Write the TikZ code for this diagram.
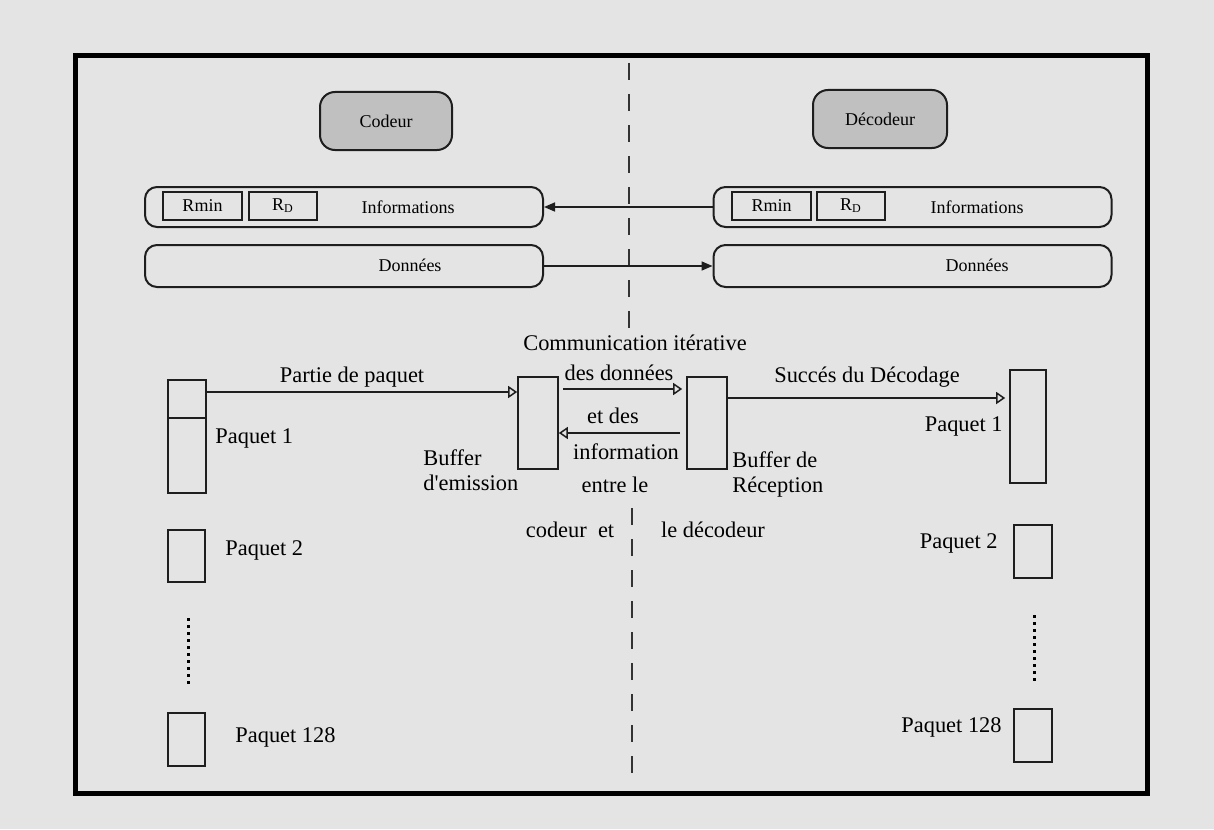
\documentclass[tikz,border=0pt]{standalone}
\usepackage{fontspec}
\setmainfont{Liberation Serif}
\newfontfamily\rawserif{Liberation Serif}[Ligatures=ResetAll]
\usetikzlibrary{arrows.meta}
\definecolor{bg}{RGB}{228,228,228}
\definecolor{ink}{RGB}{30,30,30}
\definecolor{unitfill}{RGB}{192,192,192}
\tikzset{
  unit/.style={draw=ink, line width=1pt, rounded corners=7.5pt, fill=unitfill,
    minimum width=66pt, minimum height=29pt, inner sep=0pt, font=\fontsize{9}{10}\selectfont},
  band/.style={draw=ink, line width=1pt, rounded corners=6pt,
    minimum width=199pt, minimum height=20pt, inner sep=0pt},
  field/.style={draw=ink, line width=0.9pt, minimum height=14pt, inner sep=0pt,
    font=\fontsize{9}{10}\selectfont},
  small/.style={font=\fontsize{9}{10}\selectfont, inner sep=0pt},
  lbl/.style={font=\fontsize{11.2}{12.5}\selectfont, inner sep=0pt},
  pk/.style={draw=ink, line width=0.8pt, inner sep=0pt, minimum width=19pt},
  oarrow/.style={draw=ink, line width=0.75pt, -{Triangle[open, length=4.5pt, width=6pt]}},
  farrow/.style={draw=ink, line width=0.8pt, -{Triangle[length=5.5pt, width=4.5pt]}},
  sep/.style={draw=black!80, line width=1pt, dash pattern=on 8.5pt off 7pt},
  dots/.style={draw=black, line width=1.5pt, dash pattern=on 1.5pt off 2pt}
}
\begin{document}
\begin{tikzpicture}[x=0.5pt, y=-0.5pt]
  % page and frame
  \fill[bg] (0,0) rectangle (1214,829);
  \useasboundingbox (0,0) rectangle (1214,829);
  \draw[black, line width=2.5pt] (75.5,55.5) rectangle (1147.5,793.5);

  % separation between sender and receiver
  \draw[sep] (629,63) -- (629,332);
  \draw[sep] (632,508) -- (632,778);

  % sender side, upper part
  \node[unit] (cod) at (386,121) {Codeur};
  \node[band] (infL) at (344,207) {};
  \node[field, minimum width=39.5pt] (rminL) at (202.5,206) {Rmin};
  \node[field, minimum width=34pt] (rdL) at (283,206) {R\textsubscript{D}};
  \node[small] (infLt) at (408,207) {Informations};
  \node[band, minimum height=21pt] (donL) at (344,266) {};
  \node[small] (donLt) at (410,265) {Données};

  % receiver side, upper part
  \node[unit, minimum width=67pt] (dec) at (880,119) {Décodeur};
  \node[band] (infR) at (912.5,207) {};
  \node[field, minimum width=39.5pt] (rminR) at (771.5,206) {Rmin};
  \node[field, minimum width=34pt] (rdR) at (851,206) {R\textsubscript{D}};
  \node[small] (infRt) at (977,207) {Informations};
  \node[band, minimum height=21pt] (donR) at (912.5,266) {};
  \node[small] (donRt) at (977,265) {Données};

  \draw[farrow] (infR.west) -- (infL.east);
  \draw[farrow] (donL.east) -- (donR.west);

  % packets on the sender side
  \node[pk, minimum height=56.5pt] (lp1) at (187,436.5) {};
  \coordinate (ydiv) at (0,418);
  \draw[ink, line width=0.8pt] (lp1.west |- ydiv) -- (lp1.east |- ydiv);
  \node[lbl, anchor=west] (lp1t) at (215,438) {Paquet 1};
  \node[pk, minimum width=18.5pt, minimum height=26pt] (lp2) at (186.5,556) {};
  \node[lbl, anchor=west] (lp2t) at (225,550) {Paquet 2};
  \coordinate (ld1) at (188,618);
  \coordinate (ld2) at (188,688);
  \draw[dots] (ld1) -- (ld2);
  \node[pk, minimum width=18.5pt, minimum height=26.5pt] (lp128) at (186.5,739.5) {};
  \node[lbl, anchor=west] (lp128t) at (235,737) {Paquet 128};

  % buffers
  \node[pk, minimum width=20pt, minimum height=46pt] (be) at (538,423) {};
  \node[lbl, anchor=west, align=left] (bet) at (423,470.5) {Buffer\\d{\rawserif'}emission};
  \node[pk, minimum width=20pt, minimum height=46pt] (br) at (707,423) {};
  \node[lbl, anchor=west, align=left] (brt) at (732,474.5) {Buffer de\\Réception};

  % packets on the receiver side
  \node[pk, minimum width=18pt, minimum height=56.5pt] (rp1) at (1028,426.5) {};
  \node[lbl, anchor=east] (rp1t) at (1003,426) {Paquet 1};
  \node[pk, minimum width=19pt, minimum height=26.5pt] (rp2) at (1033,551.5) {};
  \node[lbl, anchor=east] (rp2t) at (998,543) {Paquet 2};
  \coordinate (rd1) at (1034,615);
  \coordinate (rd2) at (1034,683);
  \draw[dots] (rd1) -- (rd2);
  \node[pk, minimum width=19pt, minimum height=26.5pt] (rp128) at (1033,735.5) {};
  \node[lbl, anchor=east] (rp128t) at (1002,727) {Paquet 128};

  % transfers between packets and buffers
  \coordinate (yA) at (0,392);
  \coordinate (yB) at (0,389);
  \coordinate (yC) at (0,433);
  \coordinate (yD) at (0,398);
  \draw[oarrow] (lp1.east |- yA) -- (be.west |- yA);
  \node[lbl] (partie) at (352,377) {Partie de paquet};
  \draw[oarrow, shorten <=2pt, shorten >=2pt] (be.east |- yB) -- (br.west |- yB);
  \draw[oarrow, shorten <=3pt] (br.west |- yC) -- (be.east |- yC);
  \draw[oarrow, shorten >=2pt] (br.east |- yD) -- (rp1.west |- yD);
  \node[lbl] (succes) at (867,377) {Succés du Décodage};

  % description of the exchange
  \node[lbl] (m1) at (635,343) {Communication itérative};
  \node[lbl] (m2) at (619,373) {des données};
  \node[lbl] (m3) at (613,416) {et des};
  \node[lbl] (m4) at (626,452) {information};
  \node[lbl] (m5) at (615,485) {entre le};
  \node[lbl] (m6) at (570,530) {codeur\ \ et};
  \node[lbl] (m7) at (713,530) {le décodeur};
\end{tikzpicture}
\end{document}
